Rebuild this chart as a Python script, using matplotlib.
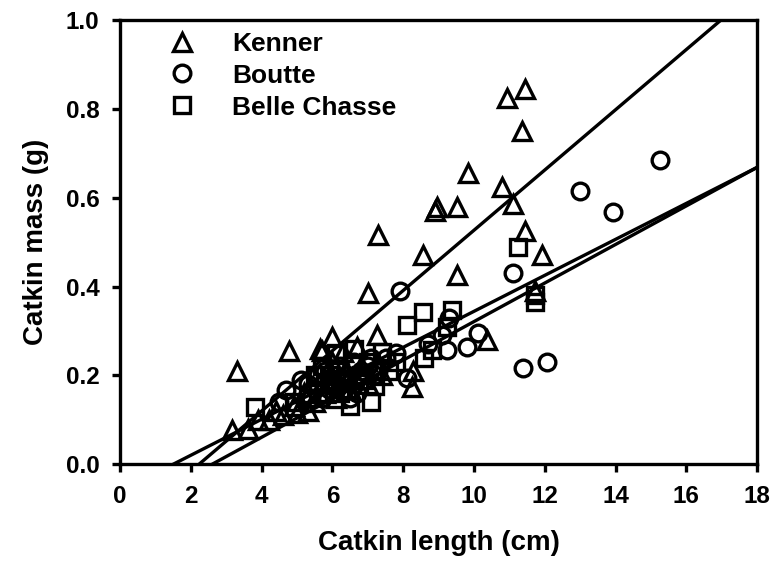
import numpy as np
import matplotlib
matplotlib.use("Agg")
import matplotlib.pyplot as plt

# Kenner (triangles)
kenner_len = [3.3, 4.77, 7.29, 7.0, 8.56, 8.9, 8.95, 9.83, 10.93, 11.44, 11.35, 10.79,
              9.52, 11.1, 11.44, 9.52, 11.92, 11.72, 10.37, 8.28, 6.0, 7.26, 5.7, 6.3,
              6.7, 5.65, 3.16, 3.6, 3.9, 4.2, 4.6, 5.0, 5.3, 5.5, 6.1, 6.5, 7.0, 8.25,
              4.4, 4.9, 5.8, 6.3, 6.8, 7.4, 5.2, 6.0]
kenner_mass = [0.21, 0.255, 0.515, 0.385, 0.47, 0.57, 0.58, 0.655, 0.825, 0.845, 0.75, 0.624,
               0.58, 0.585, 0.525, 0.425, 0.47, 0.39, 0.28, 0.21, 0.286, 0.29, 0.255, 0.252,
               0.264, 0.26, 0.078, 0.08, 0.1, 0.1, 0.11, 0.115, 0.12, 0.14, 0.15, 0.17, 0.18, 0.173,
               0.12, 0.13, 0.16, 0.2, 0.22, 0.2, 0.16, 0.23]

# Boutte (circles)
boutte_len = [4.5, 4.7, 5.1, 5.3, 5.5, 5.6, 5.8, 6.0, 6.2, 6.4, 6.6, 6.8, 7.0, 7.2, 7.5,
              7.8, 6.5, 6.7, 5.7, 7.9, 8.1, 9.24, 9.3, 9.8, 10.1, 11.1, 11.38, 12.06,
              13.0, 13.93, 15.25, 8.7, 9.1, 5.9, 6.1, 6.3, 6.9, 7.3, 5.4, 6.6, 7.1]
boutte_mass = [0.14, 0.167, 0.19, 0.18, 0.17, 0.2, 0.21, 0.19, 0.22, 0.2, 0.23, 0.21, 0.22,
               0.2, 0.24, 0.25, 0.15, 0.16, 0.15, 0.39, 0.195, 0.257, 0.33, 0.264, 0.295,
               0.43, 0.216, 0.23, 0.615, 0.568, 0.685, 0.27, 0.29, 0.17, 0.18, 0.16, 0.19,
               0.21, 0.15, 0.18, 0.24]

# Belle Chasse (squares)
belle_len = [3.81, 4.9, 5.3, 5.6, 5.8, 5.9, 6.1, 6.3, 6.5, 6.6, 6.8, 7.0, 7.2, 7.4, 7.6,
             7.8, 8.1, 8.56, 8.6, 8.8, 9.24, 9.38, 11.24, 11.72, 11.72, 6.1, 5.5, 7.1,
             5.7, 6.4, 6.9, 6.2]
belle_mass = [0.128, 0.14, 0.15, 0.16, 0.18, 0.2, 0.21, 0.19, 0.13, 0.26, 0.2, 0.23, 0.175,
              0.252, 0.21, 0.23, 0.313, 0.342, 0.24, 0.257, 0.309, 0.347, 0.49, 0.38, 0.365,
              0.25, 0.2, 0.14, 0.22, 0.17, 0.19, 0.16]

# fitted lines: (slope, x-intercept)
fits = {"Kenner": (0.0678, 2.23), "Boutte": (0.0405, 1.5), "Belle Chasse": (0.0434, 2.6)}

plt.rcParams['font.family'] = ['Liberation Sans', 'DejaVu Sans']
plt.rcParams['font.weight'] = 'bold'

fig = plt.figure(figsize=(7.75, 5.71), dpi=100)
ax = fig.add_axes([0.155, 0.187, 0.822, 0.778])

mk = dict(linestyle='none', markerfacecolor='none', markeredgecolor='black',
          markeredgewidth=2.4)
ax.plot(kenner_len, kenner_mass, marker='^', markersize=13, label='Kenner', **mk)
ax.plot(boutte_len, boutte_mass, marker='o', markersize=12, label='Boutte', **mk)
ax.plot(belle_len, belle_mass, marker='s', markersize=11, label='Belle Chasse', **mk)

for name, (slope, x0) in fits.items():
    xs = np.array([x0, 18.0])
    ax.plot(xs, slope * (xs - x0), color='black', linewidth=2.4)

ax.set_xlim(0, 18)
ax.set_ylim(0, 1.0)
ax.set_xticks(np.arange(0, 19, 2))
ax.set_yticks(np.arange(0, 1.01, 0.2))
ax.yaxis.set_major_formatter(matplotlib.ticker.FormatStrFormatter('%.1f'))

for sp in ax.spines.values():
    sp.set_linewidth(2.4)
ax.tick_params(direction='out', length=6, width=2.4, labelsize=17.5, pad=9)
for lab in ax.get_xticklabels() + ax.get_yticklabels():
    lab.set_fontweight('bold')

ax.set_xlabel('Catkin length (cm)', fontsize=20, fontweight='bold', labelpad=16)
ax.set_ylabel('Catkin mass (g)', fontsize=20, fontweight='bold', labelpad=12)

leg = ax.legend(loc='upper left', bbox_to_anchor=(0.035, 1.015), frameon=False,
                fontsize=19, handletextpad=1.1, handlelength=1.6, labelspacing=0.3,
                borderaxespad=0.3)

fig.savefig('out.png', dpi=100)
